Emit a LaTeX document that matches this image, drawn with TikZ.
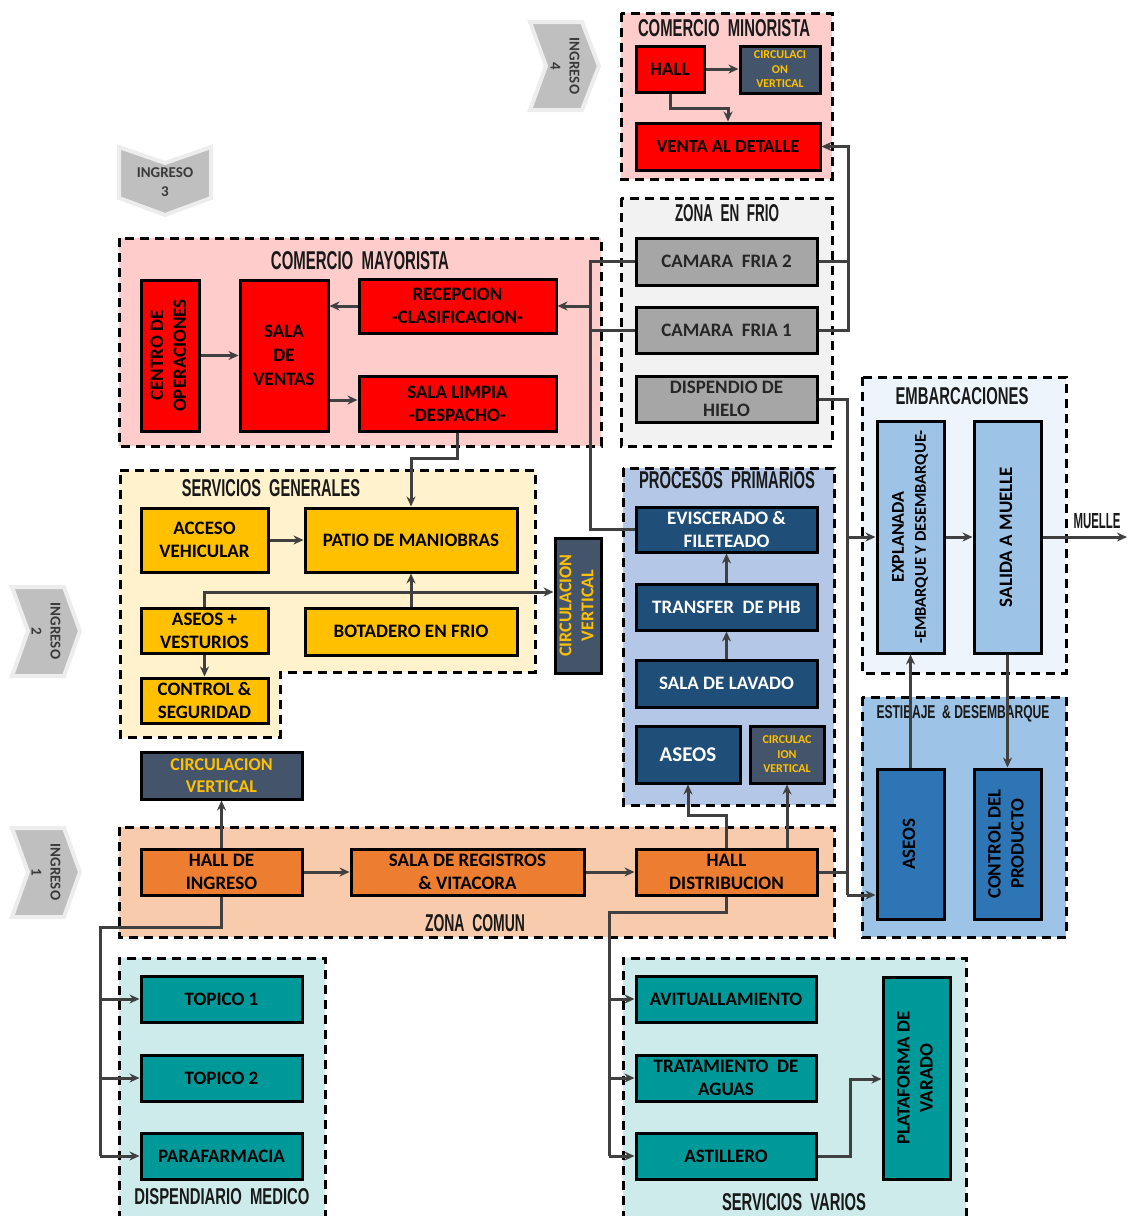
\documentclass[tikz,border=0pt]{standalone}
\usepackage{fontspec}
\usepackage{graphicx}
\setmainfont{Carlito}
\newfontfamily\ttlfont{Liberation Sans}
\usetikzlibrary{arrows.meta}

% palette
\definecolor{cRed}{HTML}{FF0000}
\definecolor{cPinkBg}{HTML}{FFCCCC}
\definecolor{cSlate}{HTML}{44546A}
\definecolor{cYel}{HTML}{FFC000}
\definecolor{cGrayBg}{HTML}{F2F2F2}
\definecolor{cGray}{HTML}{A6A6A6}
\definecolor{cSGBg}{HTML}{FFF2CC}
\definecolor{cGold}{HTML}{FFC000}
\definecolor{cPPBg}{HTML}{B4C7E7}
\definecolor{cNavy}{HTML}{1F4E79}
\definecolor{cEmbBg}{HTML}{EDF4FB}
\definecolor{cLBlue}{HTML}{9DC3E6}
\definecolor{cMBlue}{HTML}{2E75B6}
\definecolor{cZCBg}{HTML}{F8CBAD}
\definecolor{cOrange}{HTML}{ED7D31}
\definecolor{cTealBg}{HTML}{CDEBEA}
\definecolor{cTeal}{HTML}{009999}
\definecolor{cLine}{HTML}{404040}
\definecolor{cChev}{HTML}{BFBFBF}
\definecolor{cGlow}{HTML}{EDEDED}
\definecolor{cChevTxt}{HTML}{3A3A3A}

\newcommand\boxfont{\fontsize{19}{23}\selectfont\bfseries}
\newcommand\tinyboxfont{\fontsize{12}{14.5}\selectfont\bfseries}
% condensed zone titles: forced width and cap height
\newcommand\ttl[3]{\resizebox{#1pt}{#2pt}{\ttlfont\bfseries #3}}
% vertical (bottom-to-top) multi-line label
\newcommand\vtxt[1]{\rotatebox{90}{\begin{tabular}{@{}c@{}}#1\end{tabular}}}
% box from its corners: style, name, x1, y1, x2, y2, text
\newcommand\putbox[7]{%
  \pgfmathsetmacro\plcx{(#3+#5)/2}%
  \pgfmathsetmacro\plcy{(#4+#6)/2}%
  \pgfmathsetmacro\plw{#5-#3}%
  \pgfmathsetmacro\plh{#6-#4}%
  \node[#1, minimum width=\plw pt, minimum height=\plh pt] (#2) at (\plcx,\plcy) {#7};}

\begin{document}
\begin{tikzpicture}[x=1pt,y=-1pt,
  zone/.style={draw=black, line width=3pt, dash pattern=on 9pt off 6pt},
  bx/.style={draw=black, line width=3pt, inner sep=1pt, align=center, font=\boxfont, text=black},
  redbx/.style={bx, fill=cRed},
  slatebx/.style={bx, fill=cSlate, text=cYel},
  graybx/.style={bx, fill=cGray, text=black!85},
  goldbx/.style={bx, fill=cGold},
  navybx/.style={bx, fill=cNavy, text=white},
  lbluebx/.style={bx, fill=cLBlue},
  mbluebx/.style={bx, fill=cMBlue},
  orangebx/.style={bx, fill=cOrange},
  tealbx/.style={bx, fill=cTeal},
  conn/.style={draw=cLine, line width=3pt},
  arr/.style={conn, -{Stealth[length=10pt,width=9pt]}},
  chev/.style={fill=cChev, draw=cGlow, line width=4pt, line join=miter},
  chevtxt/.style={align=center, font=\fontsize{15}{19}\selectfont\bfseries, text=cChevTxt, inner sep=0pt},
  ttlnode/.style={inner sep=0pt, text=black!90}
]
\useasboundingbox (0,0) rectangle (1128,1216);

% ---------- entrance chevrons ----------
\draw[chev] (530,22) -- (582,22) -- (599,66) -- (582,110) -- (530,110) -- (546,66) -- cycle;
\node[chevtxt, rotate=-90] (ing4) at (565,66) {INGRESO\\4};
\draw[chev] (119,147) -- (165,163) -- (211,147) -- (211,198) -- (165,215) -- (119,198) -- cycle;
\node[chevtxt] (ing3) at (165,182) {INGRESO\\3};
\draw[chev] (12,587) -- (64,587) -- (80,631) -- (64,676) -- (12,676) -- (28,631) -- cycle;
\node[chevtxt, rotate=-90] (ing2) at (46,631) {INGRESO\\2};
\draw[chev] (12,828) -- (64,828) -- (80,872) -- (64,917) -- (12,917) -- (28,872) -- cycle;
\node[chevtxt, rotate=-90] (ing1) at (46,872) {INGRESO\\1};

% ---------- zones ----------
\draw[zone, fill=cPinkBg] (621,13) rectangle (832,179);
\draw[zone, fill=cGrayBg] (621,198) rectangle (832,446);
\draw[zone, fill=cPinkBg] (119,238) rectangle (601,446);
\draw[zone, fill=cSGBg] (120,470) -- (535,470) -- (535,672) -- (280,672) -- (280,737) -- (120,737) -- cycle;
\draw[zone, fill=cPPBg] (623,468) rectangle (834,805);
\draw[zone, fill=cEmbBg] (862,377) rectangle (1066,673);
\draw[zone, fill=cLBlue] (862,697) rectangle (1066,937);
\draw[zone, fill=cZCBg] (119,827) rectangle (834,937);
\fill[cTealBg] (119,958) rectangle (325,1216);
\draw[zone] (119,1220) -- (119,958) -- (325,958) -- (325,1220);
\fill[cTealBg] (623,958) rectangle (966,1216);
\draw[zone] (623,1220) -- (623,958) -- (966,958) -- (966,1220);

% ---------- zone titles ----------
\node[ttlnode] (tMin) at (724,28.5) {\ttl{172}{17}{COMERCIO\ \ MINORISTA}};
\node[ttlnode] (tFrio) at (727,213) {\ttl{104}{17}{ZONA\ \ EN\ \ FRIO}};
\node[ttlnode] (tMay) at (360,261) {\ttl{178}{18}{COMERCIO\ \ MAYORISTA}};
\node[ttlnode] (tSG) at (271,488) {\ttl{178}{17}{SERVICIOS\ \ GENERALES}};
\node[ttlnode] (tPP) at (727,480) {\ttl{176}{17}{PROCESOS\ \ PRIMARIOS}};
\node[ttlnode] (tEmb) at (962,396) {\ttl{133}{17}{EMBARCACIONES}};
\node[ttlnode] (tEst) at (963,714) {\ttl{173}{13}{ESTIBAJE\ \ \&\ DESEMBARQUE}};
\node[ttlnode] (tZC) at (475,923) {\ttl{100}{17}{ZONA\ \ COMUN}};
\node[ttlnode] (tDM) at (222,1197) {\ttl{175}{16}{DISPENDIARIO\ \ MEDICO}};
\node[ttlnode] (tSV) at (794,1202) {\ttl{144}{17}{SERVICIOS\ \ VARIOS}};
\node[ttlnode] (tMue) at (1097,521) {\ttl{47}{15}{MUELLE}};

% ---------- comercio minorista ----------
\putbox{redbx}{mhall}{636}{46}{704}{92}{HALL}
\putbox{slatebx, font=\tinyboxfont}{mcirc}{740}{46}{820}{93}{CIRCULACI\\ON\\VERTICAL}
\putbox{redbx, font=\fontsize{18.5}{23}\selectfont\bfseries}{mventa}{636}{123}{820}{170}{VENTA AL DETALLE}

% ---------- zona en frio ----------
\putbox{graybx}{fcam2}{636}{238}{817}{285}{CAMARA\ \ FRIA 2}
\putbox{graybx}{fcam1}{636}{307}{817}{353}{CAMARA\ \ FRIA 1}
\putbox{graybx}{fhielo}{636}{376}{817}{422}{DISPENDIO DE\\HIELO}

% ---------- comercio mayorista ----------
\putbox{redbx}{Mcentro}{141}{280}{199}{431}{\vtxt{CENTRO DE\\OPERACIONES}}
\putbox{redbx, font=\fontsize{19}{24}\selectfont\bfseries}{Msala}{240}{280}{328}{431}{SALA\\DE\\VENTAS}
\putbox{redbx}{Mrecep}{359}{279}{556}{333}{RECEPCION\\-CLASIFICACION-}
\putbox{redbx}{Mlimpia}{359}{376}{556}{431}{SALA LIMPIA\\-DESPACHO-}

% ---------- servicios generales ----------
\putbox{goldbx}{Gacceso}{141}{508}{268}{572}{ACCESO\\VEHICULAR}
\putbox{goldbx}{Gpatio}{305}{508}{517}{572}{PATIO DE MANIOBRAS}
\putbox{goldbx}{Gaseos}{141}{608}{268}{653}{ASEOS +\\VESTURIOS}
\putbox{goldbx}{Gbotad}{305}{608}{517}{655}{BOTADERO EN\ FRIO}
\putbox{goldbx}{Gcontrol}{141}{678}{268}{723}{CONTROL \&\\SEGURIDAD}
\putbox{slatebx, font=\fontsize{18}{22}\selectfont\bfseries}{Gcirc}{556}{538}{600}{673}{\vtxt{CIRCULACION\\VERTICAL}}

% ---------- procesos primarios ----------
\putbox{navybx}{Pevisc}{636}{507}{817}{552}{EVISCERADO \&\\FILETEADO}
\putbox{navybx}{Ptransfer}{636}{584}{817}{630}{TRANSFER\ \ DE PHB}
\putbox{navybx}{Plavado}{636}{660}{817}{707}{SALA DE LAVADO}
\putbox{navybx, font=\fontsize{21}{24}\selectfont\bfseries}{Paseos}{636}{726}{740}{783}{ASEOS}
\putbox{slatebx, font=\tinyboxfont}{Pcirc}{750}{726}{824}{783}{CIRCULAC\\ION\\VERTICAL}

% ---------- embarcaciones / estibaje ----------
\putbox{lbluebx, font=\fontsize{18}{22}\selectfont\bfseries}{Eexpl}{877}{421}{944}{653}{\vtxt{EXPLANADA\\{\fontsize{16.5}{18}\selectfont -EMBARQUE Y DESEMBARQUE-}}}
\putbox{lbluebx}{Esal}{974}{421}{1041}{653}{\vtxt{SALIDA A MUELLE}}
\putbox{mbluebx}{Saseos}{877}{769}{944}{919}{\vtxt{ASEOS}}
\putbox{mbluebx}{Scontrol}{974}{769}{1041}{919}{\vtxt{CONTROL DEL\\PRODUCTO}}

% ---------- zona comun ----------
\putbox{slatebx, font=\fontsize{18}{22}\selectfont\bfseries}{Ccirc}{141}{752}{302}{799}{CIRCULACION\\VERTICAL}
\putbox{orangebx}{Chall}{141}{849}{302}{895}{HALL DE\\INGRESO}
\putbox{orangebx}{Creg}{351}{849}{584}{895}{SALA DE REGISTROS\\\& VITACORA}
\putbox{orangebx}{Cdist}{636}{849}{817}{895}{HALL\\DISTRIBUCION}

% ---------- dispendiario medico ----------
\putbox{tealbx}{Dtop1}{141}{976}{302}{1022}{TOPICO 1}
\putbox{tealbx}{Dtop2}{141}{1055}{302}{1101}{TOPICO 2}
\putbox{tealbx}{Dpara}{141}{1133}{302}{1179}{PARAFARMACIA}

% ---------- servicios varios ----------
\putbox{tealbx}{Vavit}{636}{976}{816}{1022}{AVITUALLAMIENTO}
\putbox{tealbx}{Vtrat}{636}{1055}{816}{1101}{TRATAMIENTO\ \ DE\\AGUAS}
\putbox{tealbx}{Vast}{636}{1133}{816}{1179}{ASTILLERO}
\putbox{tealbx}{Vplat}{883}{977}{950}{1179}{\vtxt{PLATAFORMA DE\\VARADO}}

% ---------- bus lines ----------
\coordinate (busL) at (590,0);
\coordinate (busR) at (848,0);
\coordinate (busE) at (847,0);
\coordinate (busV) at (609,0);
\coordinate (busD) at (100,0);
\coordinate (muelleEnd) at (1127,537);

% comercio minorista
\draw[arr] (mhall.east) -- (mhall.east -| mcirc.west);
\draw[arr] (mhall.south) -- (mhall.south |- 0,108) -| (mventa.north);

% cold rooms up to retail
\draw[conn] (fcam2.east) -- (fcam2.east -| busR);
\draw[arr] (fcam1.east) -- (fcam1.east -| busR) |- (mventa.east);

% cold rooms to wholesale and processing
\draw[conn] (fcam2.west) -- (fcam2.west -| busL) -- (busL |- Pevisc.west) -- (Pevisc.west);
\draw[conn] (fcam1.west) -- (fcam1.west -| busL);
\draw[arr] (Mrecep.east -| busL) -- (Mrecep.east);

% ice dispenser and hall to the boats
\draw[conn] (fhielo.east) -- (fhielo.east -| busE) -- (busE |- 0,895);
\draw[arr] (busE |- 0,895) -- (Saseos.west |- 0,895);
\draw[arr] (busE |- Eexpl.west) -- (Eexpl.west);
\draw[conn] (Cdist.east) -- (Cdist.east -| busE);

% embarcaciones
\draw[arr] (Eexpl.east) -- (Esal.west);
\draw[arr] (Esal.east) -- (muelleEnd);
\draw[arr] (Saseos.north) -- (Eexpl.south);
\draw[arr] (Esal.south) -- (Scontrol.north);

% comercio mayorista
\draw[arr] (Mrecep.west) -- (Mrecep.west -| Msala.east);
\draw[arr] (Mcentro.east) -- (Mcentro.east -| Msala.west);
\draw[arr] (Msala.east |- 0,400) -- (Mlimpia.west |- 0,400);
\draw[arr] (Mlimpia.south) -- (Mlimpia.south |- 0,458) -| (Gpatio.north);

% servicios generales
\draw[arr] (Gacceso.east) -- (Gacceso.east -| Gpatio.west);
\draw[arr] (Gbotad.north) -- (Gbotad.north |- Gpatio.south);
\draw[arr] (Gaseos.north) -- (Gaseos.north |- 0,592) -- (Gcirc.west |- 0,592);
\draw[arr] (Gaseos.south) -- (Gcontrol.north);

% procesos primarios
\draw[arr] (Plavado.north) -- (Ptransfer.south);
\draw[arr] (Ptransfer.north) -- (Pevisc.south);

% zona comun
\draw[arr] (Chall.east) -- (Creg.west);
\draw[arr] (Creg.east) -- (Cdist.west);
\draw[arr] (Chall.north) -- (Ccirc.south);
\draw[arr] (Cdist.north) -- (Cdist.north |- 0,815) -| (Paseos.south);
\draw[arr] (Pcirc.south |- Cdist.north) -- (Pcirc.south);

% to servicios varios
\draw[conn] (Cdist.south) -- (Cdist.south |- 0,912) -- (busV |- 0,912) -- (busV |- Vast.west);
\draw[arr] (busV |- Vavit.west) -- (Vavit.west);
\draw[arr] (busV |- Vtrat.west) -- (Vtrat.west);
\draw[arr] (busV |- Vast.west) -- (Vast.west);
\draw[arr] (Vast.east) -- (Vast.east -| 850,0) |- (Vplat.west |- 0,1079);

% to dispendiario medico
\draw[conn] (Chall.south) -- (Chall.south |- 0,927) -- (busD |- 0,927) -- (busD |- Dpara.west);
\draw[arr] (busD |- Dtop1.west) -- (Dtop1.west);
\draw[arr] (busD |- Dtop2.west) -- (Dtop2.west);
\draw[arr] (busD |- Dpara.west) -- (Dpara.west);
\end{tikzpicture}
\end{document}
